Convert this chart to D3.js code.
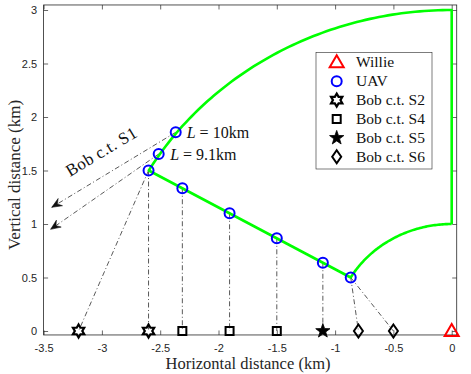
<!DOCTYPE html>
<html>
<head>
<meta charset="utf-8">
<script src="https://cdn.jsdelivr.net/npm/d3@7"></script>
<style>
  html, body { margin: 0; padding: 0; background: #fff; }
  svg { display: block; }
</style>
</head>
<body>
<svg id="chart" width="471" height="374"></svg>
<script>
// ---------------- data ----------------
const xTicks = [-3.5, -3, -2.5, -2, -1.5, -1, -0.5, 0];
const yTicks = [0, 0.5, 1, 1.5, 2, 2.5, 3];
const xTickLabels = ["-3.5", "-3", "-2.5", "-2", "-1.5", "-1", "-0.5", "0"];
const yTickLabels = ["0", "0.5", "1", "1.5", "2", "2.5", "3"];

// boundary of UAV region: annular sector around Willie
const boundaryRadii = [1, 3];       // km
const boundaryAngles = [90, 150];   // degrees

// UAV positions
const uavX = [-2.367, -2.513, -2.6, -2.31, -1.905, -1.5, -1.105, -0.866];
const uavY = [1.857, 1.654, 1.5, 1.334, 1.1, 0.866, 0.638, 0.5];

// Bob positions (on ground)
const bobS2X = [-3.2, -2.6];
const bobS4X = [-2.31, -1.905, -1.5];
const bobS5X = [-1.105];
const bobS6X = [-0.8, -0.5];
const willieX = [0];
const willieY = [0];

// links: [uav index, bob x]
const linkUav = [2, 2, 3, 4, 5, 6, 7, 7];
const linkBobX = [-3.2, -2.6, -2.31, -1.905, -1.5, -1.105, -0.8, -0.5];

// Bob c.t. S1 arrows: from uav index to end point
const s1Uav = [0, 1];
const s1EndX = [-3.43, -3.44];
const s1EndY = [1.156, 0.95];

const legendLabels = ["Willie", "UAV", "Bob c.t. S2", "Bob c.t. S4", "Bob c.t. S5", "Bob c.t. S6"];
const lLabels = [{uav: 0, val: "10km"}, {uav: 1, val: "9.1km"}];

// ---------------- scales ----------------
const svg = d3.select("#chart");
const x = d3.scaleLinear().domain([-3.5, 0]).range([43.6, 451.7]);
const y = d3.scaleLinear().domain([0, 3]).range([331, 10]);
const xMin = -3.5, xMax = 0.043, yMin = -0.037, yMax = 3.047;

const axisColor = "#262626";
const serif = "'Liberation Serif', 'Times New Roman', serif";
const sans = "'Liberation Sans', Arial, Helvetica, sans-serif";

// white plot background
svg.append("rect").attr("x", x(xMin)).attr("y", y(yMax))
  .attr("width", x(xMax) - x(xMin)).attr("height", y(yMin) - y(yMax))
  .attr("fill", "#fff");

// ---------------- axes ----------------
const tickLen = 4.5;
const gB = svg.append("g").attr("transform", `translate(0,${y(yMin)})`)
  .call(d3.axisBottom(x).tickValues(xTicks).tickFormat((d, i) => xTickLabels[i])
    .tickSizeInner(-tickLen).tickSizeOuter(0).tickPadding(9));
const gT = svg.append("g").attr("transform", `translate(0,${y(yMax)})`)
  .call(d3.axisTop(x).tickValues(xTicks).tickFormat("")
    .tickSizeInner(-tickLen).tickSizeOuter(0));
const gL = svg.append("g").attr("transform", `translate(${x(xMin)},0)`)
  .call(d3.axisLeft(y).tickValues(yTicks).tickFormat((d, i) => yTickLabels[i])
    .tickSizeInner(-tickLen).tickSizeOuter(0).tickPadding(6.5));
const gR = svg.append("g").attr("transform", `translate(${x(xMax)},0)`)
  .call(d3.axisRight(y).tickValues(yTicks).tickFormat("")
    .tickSizeInner(-tickLen).tickSizeOuter(0));
[gB, gT, gL, gR].forEach(g => {
  g.select(".domain").remove();
  g.selectAll(".tick line").attr("stroke", axisColor).attr("stroke-width", 0.7);
  g.selectAll(".tick text").attr("fill", axisColor)
    .style("font-family", sans).style("font-size", "11px");
});
svg.append("rect").attr("x", x(xMin)).attr("y", y(yMax))
  .attr("width", x(xMax) - x(xMin)).attr("height", y(yMin) - y(yMax))
  .attr("fill", "none").attr("stroke", axisColor).attr("stroke-width", 0.8);

// axis labels
svg.append("text").attr("x", 248).attr("y", 369).attr("text-anchor", "middle")
  .style("font-family", serif).style("font-size", "16.5px").attr("fill", axisColor)
  .text("Horizontal distance (km)");
svg.append("text").attr("transform", "translate(20,175) rotate(-90)").attr("text-anchor", "middle")
  .style("font-family", serif).style("font-size", "17px").attr("fill", axisColor)
  .text("Vertical distance (km)");

// ---------------- dash-dot links ----------------
const dashDot = "5,2.5,1,2.5";
const linkG = svg.append("g");
linkUav.forEach((ui, k) => {
  linkG.append("line")
    .attr("x1", x(uavX[ui])).attr("y1", y(uavY[ui]))
    .attr("x2", x(linkBobX[k])).attr("y2", y(0))
    .attr("stroke", "#222").attr("stroke-width", 0.75).attr("stroke-dasharray", dashDot);
});
// S1 arrows
s1Uav.forEach((ui, k) => {
  const x1 = x(uavX[ui]), y1 = y(uavY[ui]);
  const x2 = x(s1EndX[k]), y2 = y(s1EndY[k]);
  linkG.append("line").attr("x1", x1).attr("y1", y1).attr("x2", x2).attr("y2", y2)
    .attr("stroke", "#222").attr("stroke-width", 0.75).attr("stroke-dasharray", dashDot);
  const L = Math.hypot(x2 - x1, y2 - y1);
  const ux = (x2 - x1) / L, uy = (y2 - y1) / L;
  const nx = -uy, ny = ux;
  const hl = 10, hw = 4.2, notch = 6.5;
  const pts = [
    [x2, y2],
    [x2 - ux * hl + nx * hw, y2 - uy * hl + ny * hw],
    [x2 - ux * notch, y2 - uy * notch],
    [x2 - ux * hl - nx * hw, y2 - uy * hl - ny * hw]
  ];
  linkG.append("path").attr("d", "M" + pts.map(p => p.join(",")).join("L") + "Z")
    .attr("fill", "#111").attr("stroke", "#111").attr("stroke-width", 0.6);
});

// ---------------- green boundary ----------------
const [rIn, rOut] = boundaryRadii;
const a0 = boundaryAngles[0] * Math.PI / 180, a1 = boundaryAngles[1] * Math.PI / 180;
const n = 80;
const outer = d3.range(n + 1).map(i => { const a = a0 + (a1 - a0) * i / n; return [rOut * Math.cos(a), rOut * Math.sin(a)]; });
const inner = d3.range(n + 1).map(i => { const a = a1 - (a1 - a0) * i / n; return [rIn * Math.cos(a), rIn * Math.sin(a)]; });
const boundary = [[0, rIn], ...outer, ...inner, [0, rIn]];
svg.append("path").datum(boundary)
  .attr("d", d3.line().x(d => x(d[0])).y(d => y(d[1])))
  .attr("fill", "none").attr("stroke", "#00ff00").attr("stroke-width", 2.6)
  .attr("stroke-linejoin", "round");

// ---------------- markers ----------------
function starPath(R, r, npts, rot) {
  const pts = [];
  for (let i = 0; i < 2 * npts; i++) {
    const rad = i % 2 === 0 ? R : r;
    const a = rot + i * Math.PI / npts;
    pts.push([rad * Math.cos(a), rad * Math.sin(a)]);
  }
  return "M" + pts.map(p => p.map(v => v.toFixed(2)).join(",")).join("L") + "Z";
}
const markers = {
  circle: g => g.append("circle").attr("r", 5).attr("fill", "none").attr("stroke", "#0000ff").attr("stroke-width", 2),
  triangle: g => g.append("path").attr("d", "M0,-7L7,5L-7,5Z").attr("fill", "none").attr("stroke", "#ff0000").attr("stroke-width", 2),
  hexagram: g => g.append("path").attr("d", starPath(6.5, 6.5 / Math.sqrt(3), 6, -Math.PI / 2)).attr("fill", "none").attr("stroke", "#000").attr("stroke-width", 2.2),
  square: g => g.append("rect").attr("x", -4).attr("y", -4).attr("width", 8).attr("height", 8).attr("fill", "none").attr("stroke", "#000").attr("stroke-width", 2),
  star: g => g.append("path").attr("d", starPath(7.5, 3, 5, -Math.PI / 2)).attr("fill", "#000").attr("stroke", "#000").attr("stroke-width", 0.8),
  diamond: g => g.append("path").attr("d", "M0,-6.5L4.5,0L0,6.5L-4.5,0Z").attr("fill", "none").attr("stroke", "#000").attr("stroke-width", 2)
};
function place(xs, ys, type) {
  xs.forEach((xv, i) => {
    const g = svg.append("g").attr("transform", `translate(${x(xv)},${y(ys[i])})`);
    markers[type](g);
  });
}
place(uavX, uavY, "circle");
place(bobS2X, bobS2X.map(() => 0), "hexagram");
place(bobS4X, bobS4X.map(() => 0), "square");
place(bobS5X, bobS5X.map(() => 0), "star");
place(bobS6X, bobS6X.map(() => 0), "diamond");
place(willieX, willieY, "triangle");

// ---------------- annotations ----------------
const lOffsets = [[11, 5.5], [11.5, 6]];
lLabels.forEach((d, i) => {
  const t = svg.append("text")
    .attr("x", x(uavX[d.uav]) + lOffsets[i][0]).attr("y", y(uavY[d.uav]) + lOffsets[i][1])
    .style("font-family", serif).style("font-size", "16px").attr("fill", "#111");
  t.append("tspan").style("font-style", "italic").text("L");
  t.append("tspan").text(" = " + d.val);
});
svg.append("text").attr("transform", "translate(70,177) rotate(-31)")
  .style("font-family", serif).style("font-size", "17px").attr("fill", "#111")
  .style("letter-spacing", "0.4px")
  .text("Bob c.t. S1");

// ---------------- legend ----------------
const lg = svg.append("g");
lg.append("rect").attr("x", 316).attr("y", 52.5).attr("width", 116).attr("height", 116.5)
  .attr("fill", "#fff").attr("stroke", axisColor).attr("stroke-width", 0.6);
const legendTypes = ["triangle", "circle", "hexagram", "square", "star", "diamond"];
legendLabels.forEach((lab, i) => {
  const cy = 62.3 + i * 18.9;
  const g = lg.append("g").attr("transform", `translate(336.7,${cy})`);
  markers[legendTypes[i]](g);
  lg.append("text").attr("x", 356).attr("y", cy + 5)
    .style("font-family", serif).style("font-size", "15.5px").attr("fill", "#111")
    .text(lab);
});
</script>
</body>
</html>
